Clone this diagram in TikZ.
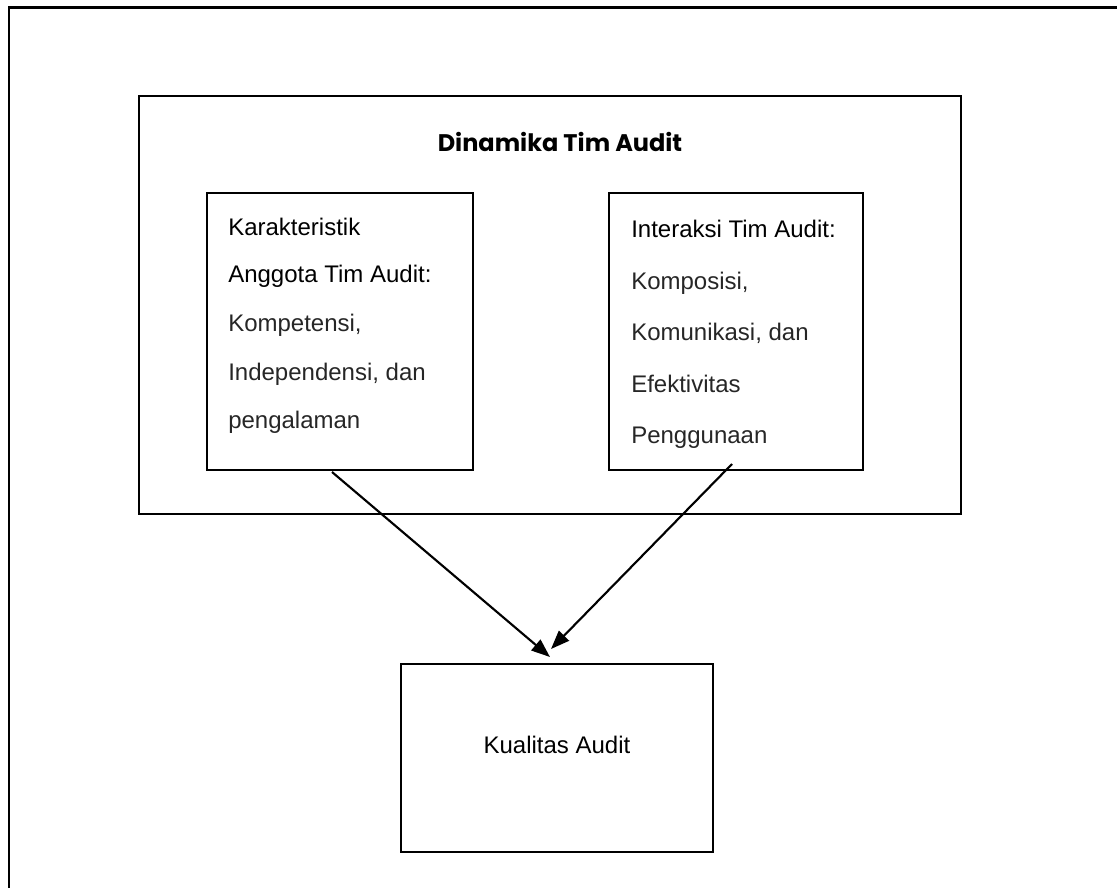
\documentclass[tikz,border=0pt]{standalone}
\usepackage{fontspec}
\setmainfont{Liberation Sans}
\newfontfamily\titlefont{Poppins}
\usetikzlibrary{fit,arrows.meta}
\tikzset{
  frame/.style={draw=black, line width=1.7pt, inner sep=0pt},
  boxtext/.style={anchor=base west, inner sep=0pt, font=\fontsize{18}{20}\selectfont, text=black},
  lighttext/.style={boxtext, text=black!85},
  conn/.style={line width=1.6pt, -{Triangle[length=14pt,width=10.5pt]}}
}
\begin{document}
\begin{tikzpicture}[x=0.75pt,y=-0.75pt]
\useasboundingbox (0,0) rectangle (1117,888);
% outer frame (only top and left edges visible)
\coordinate (otr) at (1117,7.5);
\coordinate (otl) at (9,7.5);
\coordinate (obl) at (9,888);
\draw[line width=1.7pt] (otr) -- (otl) -- (obl);
% boxes
\node[frame, fit={(139,96) (961,514)}] (dyn) {};
\node[frame, fit={(207,193) (473,470)}] (kar) {};
\node[frame, fit={(609,193) (863,470)}] (int) {};
\node[frame, fit={(401,664) (713,852)}] (kua) {};
% title
\node[anchor=base, inner sep=0pt, font=\titlefont\bfseries\fontsize{18}{20}\selectfont] (title) at (560,152) {Dinamika Tim Audit};
% left box text
\node[boxtext] (k1) at (228,235) {Karakteristik};
\node[boxtext] (k2) at (228,282) {Anggota Tim Audit:};
\node[lighttext] (k3) at (228,331) {Kompetensi,};
\node[lighttext] (k4) at (228,380) {Independensi, dan};
\node[lighttext] (k5) at (228,428) {pengalaman};
% right box text
\node[boxtext] (i1) at (631,237) {Interaksi Tim Audit:};
\node[lighttext] (i2) at (631,289) {Komposisi,};
\node[lighttext] (i3) at (631,340) {Komunikasi, dan};
\node[lighttext] (i4) at (631,392) {Efektivitas};
\node[lighttext] (i5) at (631,443) {Penggunaan};
% bottom text
\node[anchor=base, inner sep=0pt, font=\fontsize{18}{20}\selectfont] (kt) at (557,753) {Kualitas Audit};
% connectors
\coordinate (s1) at (332,472);
\coordinate (e1) at (550,657);
\coordinate (s2) at (732,464);
\coordinate (e2) at (551,649);
\draw[conn] (s1) -- (e1);
\draw[conn] (s2) -- (e2);
\end{tikzpicture}
\end{document}
